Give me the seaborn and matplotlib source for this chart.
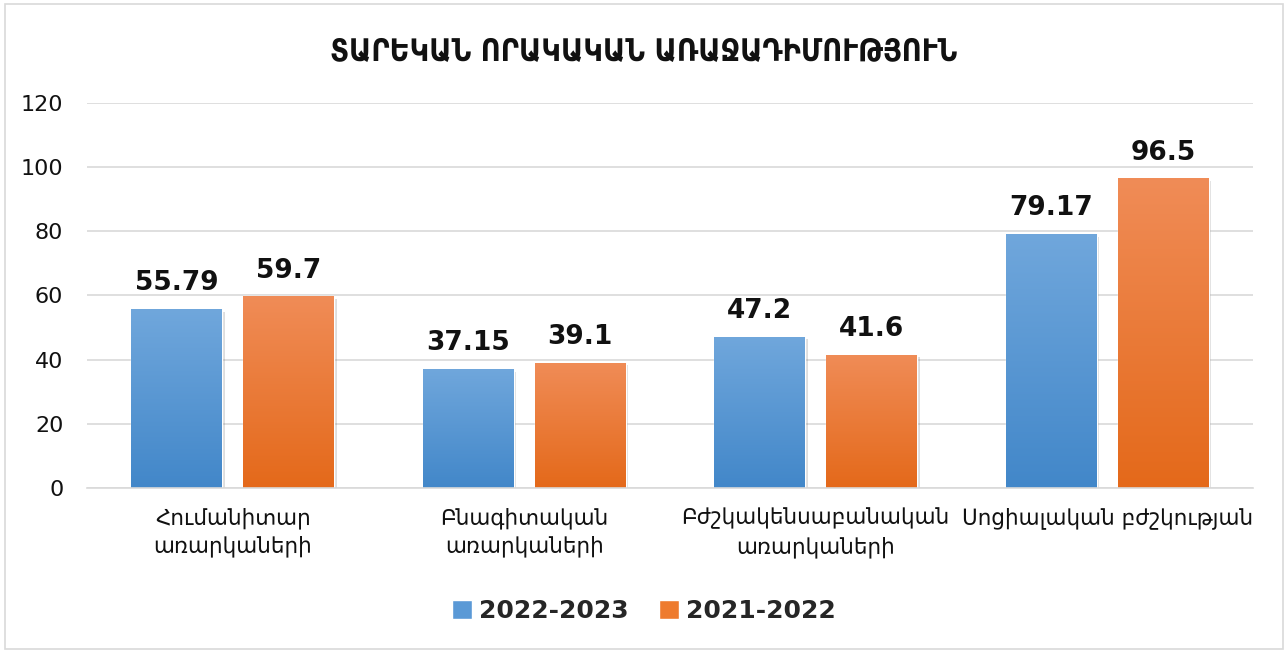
import numpy as np
import pandas as pd
import matplotlib.pyplot as plt
import matplotlib.patheffects as pe
from matplotlib.colors import LinearSegmentedColormap
from matplotlib.patches import Rectangle, Patch
import seaborn as sns

categories = ["Հումանիտար\nառարկաների", "Բնագիտական\nառարկաների",
              "Բժշկակենսաբանական\nառարկաների", "Սոցիալական բժշկության"]
series = ["2022-2023", "2021-2022"]
vals_2022_2023 = [55.79, 37.15, 47.2, 79.17]
vals_2021_2022 = [59.7, 39.1, 41.6, 96.5]
value_labels = [["55.79", "37.15", "47.2", "79.17"], ["59.7", "39.1", "41.6", "96.5"]]
title = "ՏԱՐԵԿԱՆ ՈՐԱԿԱԿԱՆ ԱՌԱՋԱԴԻՄՈՒԹՅՈՒՆ"

df = pd.DataFrame({
    "cat": categories * 2,
    "year": [series[0]] * 4 + [series[1]] * 4,
    "val": vals_2022_2023 + vals_2021_2022,
})

sns.set_style("white")
plt.rcParams['font.family'] = ['DejaVu Sans']

grads = [("#70a7dc", "#4287c9"), ("#f08c57", "#e4691a")]
mids = ["#5a99d6", "#ee7b2e"]

fig = plt.figure(figsize=(12.88, 6.53), dpi=100)
ax = fig.add_axes([0.0675, 0.2527, 0.9053, 0.5896])

sns.barplot(data=df, x="cat", y="val", hue="year", palette=mids,
            width=0.768, gap=0.1875, ax=ax, legend=False, errorbar=None)

ax.set_ylim(0, 120)
ax.set_xlim(-0.5, 3.5)

for i, cont in enumerate(ax.containers):
    cmap = LinearSegmentedColormap.from_list("g%d" % i, [grads[i][1], grads[i][0]])
    for j, bar in enumerate(cont):
        x0, w, h = bar.get_x(), bar.get_width(), bar.get_height()
        bar.set_path_effects([pe.SimplePatchShadow(offset=(2, -2), alpha=0.18, shadow_rgbFace="#444444"), pe.Normal()])
        img = ax.imshow(np.linspace(0, 1, 256).reshape(-1, 1), cmap=cmap, origin="lower",
                        extent=(x0, x0 + w, 0, h), aspect="auto", zorder=bar.get_zorder() + 0.1)
        img.set_clip_path(bar)
        ax.annotate(value_labels[i][j], (x0 + w / 2, h), xytext=(0, 9), textcoords="offset points",
                    ha="center", va="bottom", fontsize=19, fontweight="bold", color="#111111")

ax.set_ylim(0, 120)
ax.set_xlim(-0.5, 3.5)
ax.set_yticks(range(0, 121, 20))
ax.yaxis.grid(True, color="#d9d9d9", linewidth=1.2)
ax.set_axisbelow(True)
for s in ["left", "right", "top"]:
    ax.spines[s].set_visible(False)
ax.spines["bottom"].set_color("#d9d9d9")
ax.spines["bottom"].set_linewidth(1.2)
ax.tick_params(axis="y", length=0, labelsize=16, pad=17, colors="#111111")
ax.tick_params(axis="x", length=0, labelsize=15.5, pad=14, colors="#111111")
for t in ax.get_xticklabels():
    t.set_linespacing(1.4)
ax.set_xlabel("")
ax.set_ylabel("")

fig.text(0.5, 1 - 52 / 653, title, ha="center", va="center", fontsize=22,
         fontweight="bold", fontstretch="condensed", color="#111111")

handles = [Patch(facecolor=mids[0]), Patch(facecolor=mids[1])]
fig.legend(handles, series, loc="center", bbox_to_anchor=(0.5, 1 - 611 / 653), ncol=2,
           frameon=False, prop={"size": 18, "weight": "bold"}, handlelength=0.8,
           handleheight=0.8, columnspacing=1.2, handletextpad=0.3)

fig.patches.append(Rectangle((0.004, 0.006), 0.992, 0.988, transform=fig.transFigure,
                             fill=False, edgecolor="#d9d9d9", linewidth=1.2))

fig.savefig("out.png", dpi=100)
